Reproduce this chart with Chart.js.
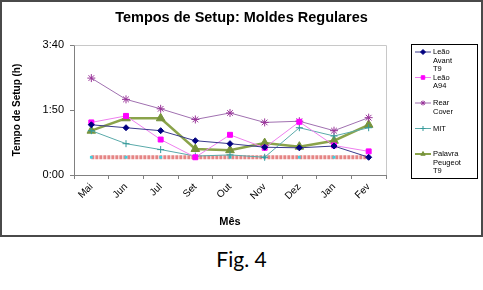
<!DOCTYPE html>
<html>
<head>
<meta charset="utf-8">
<script src="https://cdn.jsdelivr.net/npm/chart.js@4"></script>
<style>
  body { margin: 0; background: #fff; }
  #frame { position: absolute; left: 0; top: 0; width: 483px; height: 237px; box-sizing: border-box; border: 2px solid #4a4a4a; }
  #frame canvas { display: block; }
  #fig { position: absolute; left: 0; top: 246px; width: 483px; text-align: center; font-family: Lato, "Open Sans", sans-serif; font-size: 21px; color: #000; }
</style>
</head>
<body>
<div id="frame"><canvas id="setupChart" width="479" height="233"></canvas></div>
<div id="fig">Fig. 4</div>
<script>
// valores em minutos
const meses = ['Mai', 'Jun', 'Jul', 'Set', 'Out', 'Nov', 'Dez', 'Jan', 'Fev'];
const leaoAvantT9 = [85, 80, 75, 58, 53, 47, 46, 49, 30];
const leaoA94 = [89, 100, 60, 30, 68, 46, 90, 50, 40];
const rearCover = [164, 128, 112, 94, 105, 89, 91, 75, 97];
const mit = [75, 53, 43, 32, 34, 30, 80, 66, 80];
const palavraPeugeotT9 = [75, 96, 96, 44, 42, 54, 48, 58, 85];
const meta = [30, 30, 30, 30, 30, 30, 30, 30, 30];
const yTicks = [0, 110, 220];
const titulo = 'Tempos de Setup: Moldes Regulares';

function hm(v) {
  return Math.floor(v / 60) + ':' + String(v % 60).padStart(2, '0');
}

// título centrado na moldura inteira
const titlePlugin = {
  id: 'titlePlugin',
  afterDraw(chart) {
    const ctx = chart.ctx;
    ctx.save();
    ctx.font = 'bold 14.5px Arial, "Liberation Sans", sans-serif';
    ctx.fillStyle = '#000';
    ctx.textAlign = 'center';
    ctx.textBaseline = 'middle';
    ctx.fillText(titulo, chart.width / 2, 16);
    ctx.restore();
  }
};

// legenda desenhada à mão (texto quebrado em várias linhas)
const legendBox = {
  id: 'legendBox',
  afterDraw(chart) {
    const ctx = chart.ctx;
    ctx.save();
    ctx.strokeStyle = '#000';
    ctx.lineWidth = 1;
    ctx.strokeRect(409.5, 42.5, 66, 134);
    ctx.font = '7.5px Arial, "Liberation Sans", sans-serif';
    ctx.textBaseline = 'middle';
    let y = 50;
    chart.data.datasets.forEach(ds => {
      if (!ds.inLegend) return;
      ctx.strokeStyle = ds.borderColor;
      ctx.lineWidth = Math.min(ds.borderWidth, 2);
      ctx.beginPath();
      ctx.moveTo(413, y);
      ctx.lineTo(429, y);
      ctx.stroke();
      ctx.fillStyle = ds.pointBackgroundColor;
      ctx.strokeStyle = ds.pointBorderColor;
      ctx.lineWidth = 1;
      Chart.helpers.drawPoint(ctx, {
        pointStyle: ds.pointStyle, radius: Math.min(ds.pointRadius, 2.5),
        borderWidth: 1, rotation: 0
      }, 421, y);
      ctx.fillStyle = '#000';
      ds.label.split(' ').forEach((w, i) => {
        ctx.fillText(w, 431, y + i * 8.5);
      });
      y += 25.5;
    });
    ctx.restore();
  }
};

// borda cinza clara da área do gráfico
const plotBorder = {
  id: 'plotBorder',
  beforeDatasetsDraw(chart) {
    const a = chart.chartArea;
    const ctx = chart.ctx;
    ctx.save();
    ctx.strokeStyle = '#c8c8c8';
    ctx.lineWidth = 1;
    ctx.beginPath();
    ctx.moveTo(Math.round(a.left) + 0.5, Math.round(a.top) + 0.5);
    ctx.lineTo(Math.round(a.right) + 0.5, Math.round(a.top) + 0.5);
    ctx.lineTo(Math.round(a.right) + 0.5, Math.round(a.bottom));
    ctx.stroke();
    ctx.restore();
  }
};

function serie(label, data, color, lineColor, style, radius, width) {
  return {
    label: label,
    data: data,
    borderColor: lineColor,
    borderWidth: width,
    pointStyle: style,
    pointRadius: radius,
    pointHoverRadius: radius,
    pointBackgroundColor: color,
    pointBorderColor: color,
    pointBorderWidth: 1,
    tension: 0,
    inLegend: true
  };
}

const ctx = document.getElementById('setupChart').getContext('2d');
new Chart(ctx, {
  type: 'line',
  data: {
    labels: meses,
    datasets: [
      serie('Leão Avant T9', leaoAvantT9, '#000080', '#3a3a8c', 'rectRot', 3, 1),
      serie('Leão A94', leaoA94, '#ff00ff', '#ee7fee', 'rect', 3.5, 1),
      serie('Rear Cover', rearCover, '#993399', '#a070b0', 'star', 4, 1),
      serie('MIT', mit, '#339999', '#5aaaaa', 'cross', 3.5, 1),
      serie('Palavra Peugeot T9', palavraPeugeotT9, '#77933c', '#8aa34a', 'triangle', 5, 2.5),
      {
        label: 'Meta',
        data: meta,
        borderColor: '#e58585',
        borderWidth: 4,
        borderDash: [3, 1],
        pointStyle: 'rect',
        pointRadius: 2,
        pointBackgroundColor: '#40d0e0',
        pointBorderColor: '#40d0e0',
        pointBorderWidth: 0,
        tension: 0,
        inLegend: false
      }
    ]
  },
  options: {
    responsive: false,
    animation: false,
    layout: { padding: { left: 0, right: 95, top: 43, bottom: 0 } },
    plugins: {
      legend: { display: false },
      tooltip: { enabled: false },
      title: { display: false }
    },
    scales: {
      x: {
        offset: true,
        grid: { offset: true, drawOnChartArea: false, drawTicks: true, tickLength: 4, color: '#808080' },
        border: { color: '#808080', width: 1 },
        ticks: {
          color: '#000',
          minRotation: 45,
          maxRotation: 45,
          padding: 2,
          font: { family: 'Arial, "Liberation Sans", sans-serif', size: 10 }
        },
        title: {
          display: true,
          text: 'Mês',
          color: '#000',
          font: { family: 'Arial, "Liberation Sans", sans-serif', size: 11, weight: 'bold' },
          padding: { top: 4, bottom: 6 }
        },
        afterFit(scale) { scale.height = 60; }
      },
      y: {
        min: yTicks[0],
        max: yTicks[yTicks.length - 1],
        afterBuildTicks(scale) { scale.ticks = yTicks.map(v => ({ value: v })); },
        grid: { drawOnChartArea: false, drawTicks: true, tickLength: 4, color: '#808080' },
        border: { color: '#808080', width: 1 },
        ticks: {
          color: '#000',
          padding: 6,
          callback: v => hm(v),
          font: { family: 'Arial, "Liberation Sans", sans-serif', size: 11 }
        },
        title: {
          display: true,
          text: 'Tempo de Setup (h)',
          color: '#000',
          font: { family: 'Arial, "Liberation Sans", sans-serif', size: 10, weight: 'bold' },
          padding: { top: 9, bottom: 0 }
        },
        afterFit(scale) { scale.width = 72; }
      }
    }
  },
  plugins: [legendBox, plotBorder, titlePlugin]
});
</script>
</body>
</html>
